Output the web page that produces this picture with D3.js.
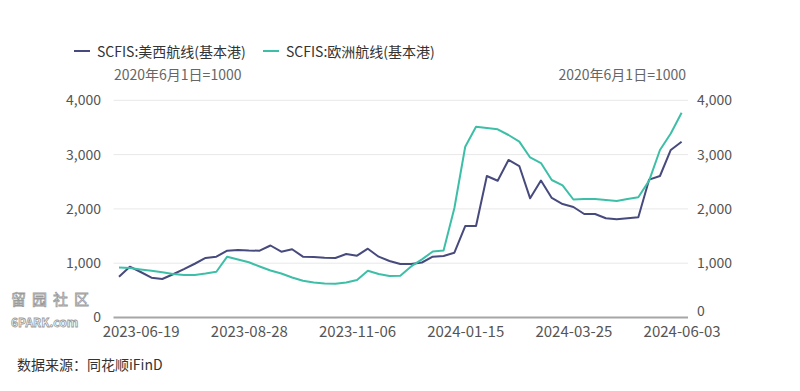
<!DOCTYPE html>
<html>
<head>
<meta charset="utf-8">
<script src="https://cdn.jsdelivr.net/npm/d3@7/dist/d3.min.js"></script>
<style>
  html, body { margin: 0; padding: 0; background: #ffffff; }
  svg { display: block; font-family: "Noto Sans CJK SC", "Noto Sans", sans-serif; }
</style>
</head>
<body>
<svg id="chart" width="800" height="391"></svg>
<script>
// ---- data ----
const dates = [
  "2023-06-05","2023-06-12","2023-06-19","2023-06-26","2023-07-03","2023-07-10","2023-07-17","2023-07-24","2023-07-31",
  "2023-08-07","2023-08-14","2023-08-21","2023-08-28","2023-09-04","2023-09-11","2023-09-18","2023-09-25",
  "2023-10-02","2023-10-09","2023-10-16","2023-10-23","2023-10-30","2023-11-06","2023-11-13","2023-11-20","2023-11-27",
  "2023-12-04","2023-12-11","2023-12-18","2023-12-25","2024-01-01","2024-01-08","2024-01-15","2024-01-22","2024-01-29",
  "2024-02-05","2024-02-12","2024-02-19","2024-02-26","2024-03-04","2024-03-11","2024-03-18","2024-03-25",
  "2024-04-01","2024-04-08","2024-04-15","2024-04-22","2024-04-29","2024-05-06","2024-05-13","2024-05-20","2024-05-27","2024-06-03"
];
const usWest = [
  751, 936, 838, 733, 709, 796, 890, 990, 1096, 1120,
  1230, 1243, 1234, 1230, 1326, 1212, 1256, 1120, 1114, 1101,
  1096, 1169, 1138, 1267, 1120, 1041, 985, 985, 1013, 1120,
  1133, 1193, 1685, 1685, 2606, 2519, 2901, 2790, 2195, 2523,
  2201, 2090, 2035, 1906, 1906, 1827, 1808, 1827, 1845, 2540,
  2606, 3085, 3238
];
const europe = [
  920, 910, 884, 860, 832, 801, 783, 783, 810, 843,
  1120, 1068, 1017, 939, 866, 810, 737, 676, 643, 626,
  622, 646, 690, 862, 801, 764, 768, 940, 1070, 1215,
  1234, 2017, 3145, 3514, 3490, 3466, 3361, 3238, 2947, 2845,
  2532, 2435, 2173, 2182, 2182, 2164, 2145, 2182, 2214, 2520,
  3085, 3389, 3772
];
const xTickLabels = ["2023-06-19","2023-08-28","2023-11-06","2024-01-15","2024-03-25","2024-06-03"];
const yTicks = [0, 1000, 2000, 3000, 4000];
const seriesNames = ["SCFIS:美西航线(基本港)", "SCFIS:欧洲航线(基本港)"];
const baseNote = "2020年6月1日=1000";
const sourceNote = "数据来源：同花顺iFinD";

// ---- layout ----
const svg = d3.select("#chart");
const colors = ["#474a7c", "#3dbfa7"];
const plotLeft = 113.5, plotRight = 688;

const x = d3.scalePoint().domain(dates).range([119, 681.6]);
const y = d3.scaleLinear().domain([0, 4000]).range([317.5, 100.3]);

// gridlines
svg.append("g").selectAll("line")
  .data(yTicks.filter(d => d > 0))
  .join("line")
  .attr("x1", plotLeft).attr("x2", plotRight)
  .attr("y1", d => y(d)).attr("y2", d => y(d))
  .attr("stroke", "#e8e8e8").attr("stroke-width", 1);

// left axis
const fmt = d3.format(",");
const leftAxis = d3.axisLeft(y).tickValues(yTicks).tickFormat(fmt).tickSize(0).tickPadding(0);
const gL = svg.append("g").attr("transform", "translate(101,0)").call(leftAxis);
gL.select(".domain").remove();
gL.selectAll("text").attr("fill", "#555").attr("font-size", 14).attr("font-family", "Noto Sans CJK SC, sans-serif");

// right axis
const rightAxis = d3.axisRight(y).tickValues(yTicks).tickFormat(fmt).tickSize(0).tickPadding(0);
const gR = svg.append("g").attr("transform", "translate(697,0)").call(rightAxis);
gR.select(".domain").remove();
gR.selectAll("text").attr("fill", "#555").attr("font-size", 14).attr("font-family", "Noto Sans CJK SC, sans-serif");
gR.selectAll(".tick").filter(d => d === 0).select("text").attr("dy", "-0.15em");

// bottom axis
const bottomAxis = d3.axisBottom(x).tickValues(xTickLabels).tickSize(0).tickPadding(9);
const gB = svg.append("g").attr("transform", `translate(0,${y(0)})`).call(bottomAxis);
gB.select(".domain").remove();
gB.selectAll("text").attr("fill", "#555").attr("font-size", 15).attr("font-family", "Noto Sans CJK SC, sans-serif");
svg.append("line")
  .attr("x1", plotLeft).attr("x2", plotRight)
  .attr("y1", y(0)).attr("y2", y(0))
  .attr("stroke", "#a6a6a6").attr("stroke-width", 2);

// lines
const line = d3.line().x((d, i) => x(dates[i])).y(d => y(d));
[usWest, europe].forEach((s, k) => {
  svg.append("path")
    .datum(s)
    .attr("fill", "none")
    .attr("stroke", colors[k])
    .attr("stroke-width", 2)
    .attr("stroke-linejoin", "round")
    .attr("d", line);
});

// legend
const legendX = [74, 263];
seriesNames.forEach((name, k) => {
  svg.append("line")
    .attr("x1", legendX[k]).attr("x2", legendX[k] + 16)
    .attr("y1", 51).attr("y2", 51)
    .attr("stroke", colors[k]).attr("stroke-width", 2);
  svg.append("text")
    .attr("x", legendX[k] + 23).attr("y", 51)
    .attr("dominant-baseline", "central")
    .attr("font-size", 14).attr("fill", "#333")
    .text(name);
});

// base notes
svg.append("text").attr("x", 114).attr("y", 74).attr("dominant-baseline", "central")
  .attr("font-size", 14).attr("fill", "#666").text(baseNote);
svg.append("text").attr("x", 686).attr("y", 74).attr("dominant-baseline", "central")
  .attr("text-anchor", "end")
  .attr("font-size", 14).attr("fill", "#666").text(baseNote);

// source
svg.append("text").attr("x", 17).attr("y", 364).attr("dominant-baseline", "central")
  .attr("font-size", 14).attr("fill", "#333").text(sourceNote);

// watermark
svg.append("text").attr("x", 11).attr("y", 298).attr("dominant-baseline", "central")
  .attr("font-size", 15).attr("fill", "#ffffff").attr("stroke", "#9a9a9a").attr("stroke-width", 0.8)
  .attr("letter-spacing", 6).text("留园社区");
svg.append("text").attr("x", 11).attr("y", 321).attr("dominant-baseline", "central")
  .attr("font-size", 12).attr("fill", "#ffffff").attr("stroke", "#9a9a9a").attr("stroke-width", 0.8)
  .attr("font-weight", "bold").text("6PARK.com");
</script>
</body>
</html>
